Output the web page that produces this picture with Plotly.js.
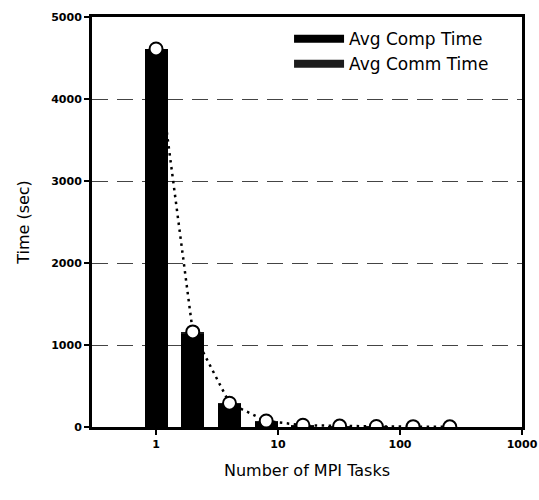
<!DOCTYPE html>
<html>
<head>
<meta charset="utf-8">
<script src="https://cdn.plot.ly/plotly-3.0.1.min.js"></script>
<style>html,body{margin:0;padding:0;background:#fff;}#chart{width:539px;height:500px;}</style>
</head>
<body>
<div id="chart"></div>
<script>
// Data
const tasks = [1, 2, 4, 8, 16, 32, 64, 128, 256];
const compTime = [4610, 1140, 277, 62, 14, 6, 3, 1.5, 0.8];
const commTime = [0, 20, 13, 11, 8, 5, 4, 3, 2];
const totalTime = [4610, 1160, 290, 73, 22, 11, 7, 4.5, 2.8];
const seriesNames = ["Avg Comp Time", "Avg Comm Time"];
const yTicks = [0, 1000, 2000, 3000, 4000, 5000];
const xTicks = [1, 10, 100, 1000];

// Constant pixel-width bars on a log axis (half width in decades)
const halfDec = 0.094;
const barWidth = tasks.map(t => t * (Math.pow(10, halfDec) - Math.pow(10, -halfDec)));
const barOffset = tasks.map(t => -t * (1 - Math.pow(10, -halfDec)));

const FONT = "DejaVu Sans, Arial, sans-serif";

const traces = [
  {type: "bar", x: tasks, y: compTime, width: barWidth, offset: barOffset,
   marker: {color: "#000000", line: {width: 0}}, name: seriesNames[0], showlegend: false},
  {type: "bar", x: tasks, y: commTime, width: barWidth, offset: barOffset,
   marker: {color: "#1c1c1c", line: {width: 0}}, name: seriesNames[1], showlegend: false},
  {type: "scatter", mode: "lines+markers", x: tasks, y: totalTime, showlegend: false,
   line: {color: "#000", width: 2.5, dash: "2.5px,4.5px"},
   marker: {symbol: "circle", size: 13, color: "#fff", line: {color: "#000", width: 2}}},
  // legend proxies
  {type: "scatter", mode: "lines", x: [null], y: [null], name: seriesNames[0],
   line: {color: "#000", width: 8}},
  {type: "scatter", mode: "lines", x: [null], y: [null], name: seriesNames[1],
   line: {color: "#1c1c1c", width: 8}}
];

const layout = {
  width: 539, height: 500,
  margin: {l: 92, r: 17, t: 17, b: 73},
  paper_bgcolor: "#fff", plot_bgcolor: "#fff",
  barmode: "stack",
  showlegend: true,
  legend: {x: 0.935, xanchor: "right", y: 0.99, yanchor: "top", traceorder: "normal",
           bgcolor: "rgba(0,0,0,0)", borderwidth: 0, itemwidth: 50,
           font: {family: FONT, size: 17, color: "#000"}, tracegroupgap: 0},
  xaxis: {
    type: "log", range: [-0.525, 3],
    tickvals: xTicks, ticktext: xTicks.map(String),
    ticks: "outside", ticklen: 5, tickwidth: 2, tickcolor: "#000",
    showline: true, linewidth: 3, linecolor: "#000", mirror: true,
    showgrid: false, zeroline: false,
    tickfont: {family: FONT, size: 11, color: "#000", weight: "bold"},
    title: {text: "Number of MPI Tasks", font: {family: FONT, size: 16, color: "#000"}, standoff: 15}
  },
  yaxis: {
    range: [0, 5000],
    tickvals: yTicks, ticktext: yTicks.map(String),
    ticks: "outside", ticklen: 5, tickwidth: 2, tickcolor: "#000",
    showline: true, linewidth: 3, linecolor: "#000", mirror: true,
    showgrid: true, gridcolor: "#444", gridwidth: 1, griddash: "16px,9px",
    zeroline: false,
    tickfont: {family: FONT, size: 11, color: "#000", weight: "bold"},
    title: {text: "Time (sec)", font: {family: FONT, size: 16, color: "#000"}, standoff: 18}
  }
};

Plotly.newPlot("chart", traces, layout, {displayModeBar: false, staticPlot: true});
</script>
</body>
</html>
